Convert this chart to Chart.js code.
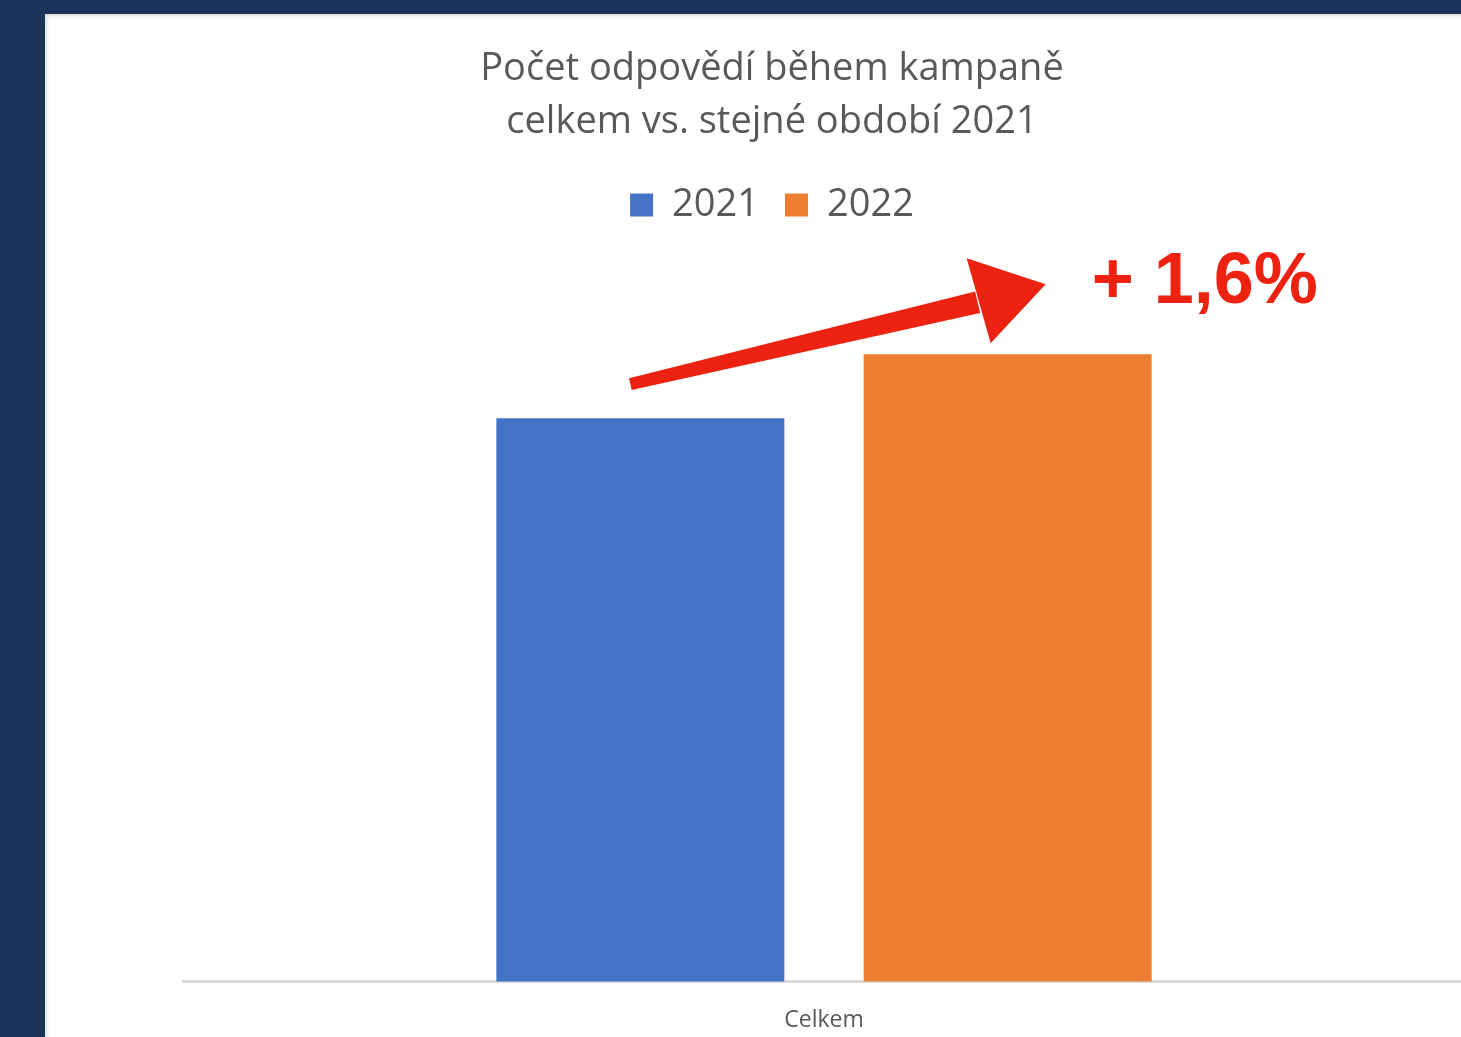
<!DOCTYPE html>
<html lang="cs">
<head>
<meta charset="utf-8">
<title>Počet odpovědí během kampaně</title>
<script src="https://cdn.jsdelivr.net/npm/chart.js@4"></script>
<style>
    html, body { margin: 0; padding: 0; }
    body {
        width: 1461px;
        height: 1037px;
        background: #1b3259;
        overflow: hidden;
        position: relative;
    }
    .panel {
        position: absolute;
        left: 45px;
        top: 14px;
        width: 1416px;
        height: 1023px;
        background: #fff;
        overflow: hidden;
    }
    .panel::after {
        content: '';
        position: absolute;
        inset: 0;
        pointer-events: none;
        box-shadow: inset 3px 3px 4px -1px rgba(0, 0, 0, 0.15);
    }
    canvas { display: block; }
</style>
</head>
<body>
<div class="panel">
    <canvas id="chart" width="1420" height="1041"></canvas>
</div>
<script>
// Data
const categories = ['Celkem'];
const seriesNames = ['2021', '2022'];
const values2021 = [1000];
const values2022 = [1016];
const seriesColors = ['#4472c4', '#ed7d31'];
const titleLines = ['Počet odpovědí během kampaně', 'celkem vs. stejné období 2021'];
const changeLabel = '+ 1,6%';

const textGray = '#595959';
const fontFamily = '"Open Sans", sans-serif';

// Red arrow + percentage, anchored on the two bars
const arrowPlugin = {
    id: 'arrowNote',
    afterDatasetsDraw(chart) {
        const ctx = chart.ctx;
        const a = chart.getDatasetMeta(0).data[0];
        const b = chart.getDatasetMeta(1).data[0];
        if (!a || !b) return;
        const red = '#ee2211';
        ctx.save();
        ctx.fillStyle = red;

        // shaft (slightly tapered)
        const sx = a.x - 10, sy = a.y - 34;
        const ex = b.x - 30, ey = b.y - 52;
        const ang = Math.atan2(ey - sy, ex - sx);
        const nx = -Math.sin(ang), ny = Math.cos(ang);
        ctx.beginPath();
        ctx.moveTo(sx + nx * 6, sy + ny * 6);
        ctx.lineTo(ex + nx * 11, ey + ny * 11);
        ctx.lineTo(ex - nx * 11, ey - ny * 11);
        ctx.lineTo(sx - nx * 6, sy - ny * 6);
        ctx.closePath();
        ctx.fill();

        // head
        ctx.beginPath();
        ctx.moveTo(b.x - 41, b.y - 96);
        ctx.lineTo(b.x + 38, b.y - 70);
        ctx.lineTo(b.x - 17, b.y - 11);
        ctx.closePath();
        ctx.fill();

        // label
        ctx.font = 'bold 72px "Liberation Sans", Arial, sans-serif';
        ctx.textAlign = 'left';
        ctx.textBaseline = 'alphabetic';
        ctx.fillText(changeLabel, b.x + b.width / 2 - 60, b.y - 51);
        ctx.restore();
    }
};

new Chart(document.getElementById('chart').getContext('2d'), {
    type: 'bar',
    data: {
        labels: categories,
        datasets: [
            {
                label: seriesNames[0],
                data: values2021,
                backgroundColor: seriesColors[0],
                categoryPercentage: 0.573,
                barPercentage: 0.784
            },
            {
                label: seriesNames[1],
                data: values2022,
                backgroundColor: seriesColors[1],
                categoryPercentage: 0.573,
                barPercentage: 0.784
            }
        ]
    },
    options: {
        responsive: false,
        animation: false,
        devicePixelRatio: 1,
        layout: {
            padding: { left: 34, right: 0, top: 0, bottom: 4 }
        },
        plugins: {
            title: {
                display: true,
                text: titleLines,
                color: textGray,
                font: { family: fontFamily, size: 38, weight: 'normal', lineHeight: 1.395 },
                padding: { top: 29, bottom: 11 }
            },
            legend: {
                display: true,
                position: 'top',
                labels: {
                    color: textGray,
                    boxWidth: 23,
                    boxHeight: 23,
                    padding: 26,
                    font: { family: fontFamily, size: 38 }
                }
            },
            tooltip: { enabled: false }
        },
        scales: {
            x: {
                grid: { display: false },
                border: { display: true, color: '#d9d9d9', width: 3 },
                ticks: {
                    color: textGray,
                    padding: 17,
                    font: { family: fontFamily, size: 23 }
                }
            },
            y: {
                display: true,
                min: 859,
                max: 1046.1,
                grid: { display: false },
                border: { display: false },
                ticks: { display: false },
                afterFit(scale) { scale.width = 104; }
            }
        }
    },
    plugins: [arrowPlugin]
});
</script>
</body>
</html>
